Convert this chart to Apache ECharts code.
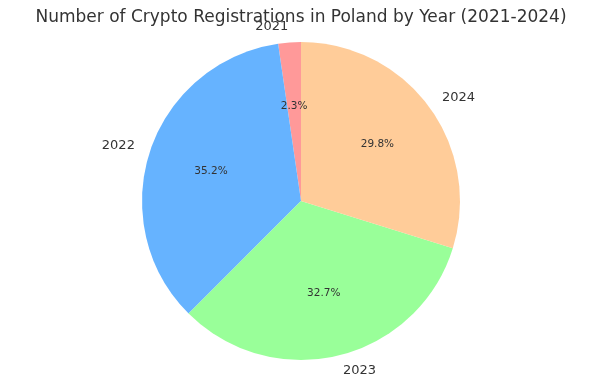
<!DOCTYPE html>
<html>
<head>
<meta charset="utf-8">
<script src="https://cdn.jsdelivr.net/npm/echarts@6/dist/echarts.min.js"></script>
<style>html,body{margin:0;padding:0;background:#fff;}#c{width:602px;height:385px;}</style>
</head>
<body>
<div id="c"></div>
<script>
const titleText = 'Number of Crypto Registrations in Poland by Year (2021-2024)';
const years = ['2021', '2022', '2023', '2024'];
const shares = [2.3, 35.2, 32.7, 29.8];
const colors = ['#ff9999', '#66b3ff', '#99ff99', '#ffcc99'];

const R = 159;
const data = years.map((y, i) => ({ name: y, value: shares[i] }));
const chart = echarts.init(document.getElementById('c'), null, { renderer: 'canvas' });
chart.setOption({
  animation: false,
  title: {
    text: titleText,
    left: 'center',
    top: 4,
    textStyle: { fontFamily: 'DejaVu Sans', fontSize: 17, fontWeight: 'normal', color: '#333' }
  },
  color: colors,
  series: [
    {
      type: 'pie',
      center: [301, 201],
      radius: [0, R],
      startAngle: 90,
      clockwise: false,
      silent: true,
      data: data,
      itemStyle: { borderWidth: 0 },
      label: {
        show: true,
        position: 'outside',
        formatter: '{b}',
        distanceToLabelLine: 0,
        fontFamily: 'DejaVu Sans',
        fontSize: 13,
        color: '#333'
      },
      labelLine: { show: false, length: 16, length2: 0 }
    },
    {
      type: 'pie',
      center: [301, 201],
      radius: [R * 0.2 - 7, R],
      startAngle: 90,
      clockwise: false,
      silent: true,
      data: data,
      itemStyle: { color: 'rgba(0,0,0,0)', borderWidth: 0 },
      label: {
        show: true,
        position: 'inside',
        formatter: p => p.value.toFixed(1) + '%',
        fontFamily: 'DejaVu Sans',
        fontSize: 10.5,
        color: '#333'
      },
      labelLine: { show: false }
    }
  ]
});
</script>
</body>
</html>
